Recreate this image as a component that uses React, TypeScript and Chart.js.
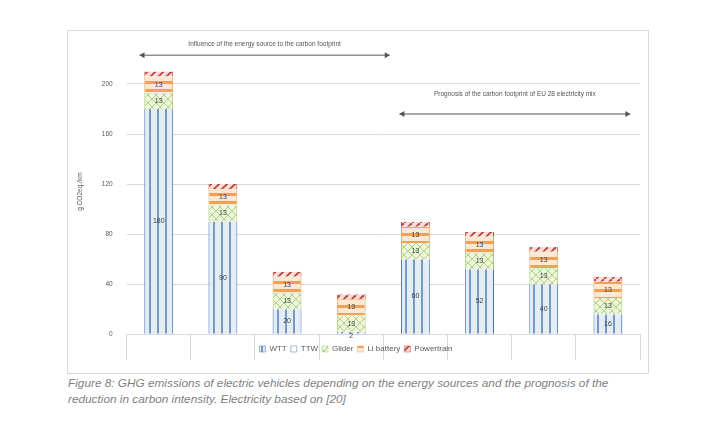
import React, { useEffect, useRef } from "react";
import { Chart, registerables } from "chart.js";
Chart.register(...registerables);

const energyLabels = ["900 g CO2/kWh", "450 g CO2/kWh", "100 g CO2/kWh", "11 g CO2/kWh", "300 g CO2/kWh", "260 g CO2/kWh", "200 g CO2/kWh", "80 g CO2/kWh"];
const sourceLabels = ["coal", "natural gas", "solar", "wind", "EU 28 (2015)", "EU 28 (2020)", "EU 28 (2030)", "EU 28 (2050)"];
const wtt = [180, 90, 20, 2, 60, 52, 40, 16];
const ttw = [0, 0, 0, 0, 0, 0, 0, 0];
const glider = [13, 13, 13, 13, 13, 13, 13, 13];
const battery = [13, 13, 13, 13, 13, 13, 13, 13];
const powertrain = [4, 4, 4, 4, 4, 4, 4, 4];
const yTicks = [0, 40, 80, 120, 160, 200];

function pattern(kind: string): CanvasPattern | string {
  const c = document.createElement("canvas");
  const s = 8;
  c.width = s; c.height = s;
  const g = c.getContext("2d")!;
  if (kind === "wtt") {
    g.fillStyle = "#e4edf7"; g.fillRect(0, 0, s, s);
    g.strokeStyle = "#5b84b8"; g.lineWidth = 1.6;
    g.beginPath(); g.moveTo(2, 0); g.lineTo(2, s); g.stroke();
  } else if (kind === "glider") {
    g.fillStyle = "#eef5df"; g.fillRect(0, 0, s, s);
    g.strokeStyle = "#a6c86a"; g.lineWidth = 0.8;
    g.beginPath(); g.moveTo(0, 0); g.lineTo(s, s); g.moveTo(s, 0); g.lineTo(0, s); g.stroke();
  } else if (kind === "battery") {
    g.fillStyle = "#fde8d4"; g.fillRect(0, 0, s, s);
    g.fillStyle = "#f1a055"; g.fillRect(0, 2, s, 3);
  } else if (kind === "powertrain") {
    g.fillStyle = "#f6dcd8"; g.fillRect(0, 0, s, s);
    g.strokeStyle = "#c0403a"; g.lineWidth = 1.8;
    g.beginPath(); g.moveTo(0, s); g.lineTo(s, 0); g.stroke();
  } else {
    g.fillStyle = "#ffffff"; g.fillRect(0, 0, s, s);
  }
  return g.createPattern(c, "repeat")!;
}

const labelPlugin = {
  id: "vals",
  afterDatasetsDraw(chart: any) {
    const ctx = chart.ctx;
    ctx.save();
    ctx.font = "7px 'Liberation Sans', sans-serif";
    ctx.fillStyle = "#404040";
    ctx.textAlign = "center";
    ctx.textBaseline = "middle";
    [0, 2, 3].forEach((di) => {
      const meta = chart.getDatasetMeta(di);
      meta.data.forEach((el: any, i: number) => {
        const v = chart.data.datasets[di].data[i];
        if (!v) return;
        const y = di === 0 && v < 5 ? el.y + 4 : (el.y + el.base) / 2;
        ctx.fillText(String(v), el.x, y);
      });
    });
    const x = chart.scales.x;
    const y = chart.scales.y;
    const arrow = (x1: number, x2: number, yy: number, text: string, ty: number) => {
      ctx.strokeStyle = "#555"; ctx.fillStyle = "#555"; ctx.lineWidth = 1;
      ctx.beginPath(); ctx.moveTo(x1, yy); ctx.lineTo(x2, yy); ctx.stroke();
      ctx.beginPath(); ctx.moveTo(x1, yy); ctx.lineTo(x1 + 5, yy - 3); ctx.lineTo(x1 + 5, yy + 3); ctx.fill();
      ctx.beginPath(); ctx.moveTo(x2, yy); ctx.lineTo(x2 - 5, yy - 3); ctx.lineTo(x2 - 5, yy + 3); ctx.fill();
      ctx.fillStyle = "#555"; ctx.font = "6.5px 'Liberation Sans', sans-serif";
      ctx.fillText(text, (x1 + x2) / 2, ty);
    };
    const w = (x.getPixelForValue(1) - x.getPixelForValue(0));
    arrow(x.getPixelForValue(0) - w * 0.3, x.getPixelForValue(3) + w * 0.6, y.getPixelForValue(223), "Influence of the energy source to the carbon footprint", y.getPixelForValue(232));
    arrow(x.getPixelForValue(4) - w * 0.25, x.getPixelForValue(7) + w * 0.35, y.getPixelForValue(176), "Prognosis of the carbon footprint of EU 28 electricity mix", y.getPixelForValue(192));
    ctx.restore();
  },
};

export default function App() {
  const ref = useRef<HTMLCanvasElement>(null);
  useEffect(() => {
    const labels = energyLabels.map((e, i) => [e, sourceLabels[i]]);
    const mk = (label: string, data: number[], kind: string, border: string) => ({
      label, data, backgroundColor: pattern(kind), borderColor: border, borderWidth: { left: 1, right: 1, top: 0, bottom: 0 } as any, barPercentage: 0.45, categoryPercentage: 1,
    });
    const chart = new Chart(ref.current!, {
      type: "bar",
      data: {
        labels,
        datasets: [
          mk("WTT", wtt, "wtt", "#4a73a8"),
          mk("TTW", ttw, "ttw", "#4a73a8"),
          mk("Glider", glider, "glider", "#a6c86a"),
          mk("Li battery", battery, "battery", "#f1a055"),
          mk("Powertrain", powertrain, "powertrain", "#c0403a"),
        ],
      },
      options: {
        animation: false,
        responsive: false,
        layout: { padding: { top: 12, right: 8, left: 4, bottom: 10 } },
        scales: {
          x: {
            stacked: true,
            grid: { display: true, drawOnChartArea: false, color: "#d9d9d9", tickLength: 26 } as any,
            border: { color: "#d9d9d9" },
            ticks: { color: "#595959", font: { size: 6.5, family: "'Liberation Sans', sans-serif", lineHeight: 1.9 }, maxRotation: 0, autoSkip: false, padding: -22 },
          },
          y: {
            stacked: true, min: 0, max: 228,
            afterBuildTicks: (s: any) => { s.ticks = yTicks.map((v) => ({ value: v })); },
            grid: { color: "#d9d9d9", drawTicks: false },
            border: { display: false },
            ticks: { color: "#595959", font: { size: 6.5, family: "'Liberation Sans', sans-serif" }, padding: 14 },
            title: { display: true, text: "g CO2eq./km", color: "#595959", font: { size: 6.5, family: "'Liberation Sans', sans-serif" } },
          },
        },
        plugins: {
          tooltip: { enabled: false },
          legend: {
            position: "bottom",
            labels: { boxWidth: 6, boxHeight: 6, color: "#595959", font: { size: 8, family: "'Liberation Sans', sans-serif" }, padding: 4 },
          },
        },
      },
      plugins: [labelPlugin],
    });
    return () => chart.destroy();
  }, []);
  return (
    <div style={{ position: "absolute", left: 0, top: 0, width: 701, height: 428, background: "#fff" }}>
      <div style={{ position: "absolute", left: 67, top: 30, width: 580, height: 342, border: "1px solid #d9d9d9" }}>
        <canvas ref={ref} width={580} height={342} style={{ width: 580, height: 342 }} />
      </div>
      <div style={{ position: "absolute", left: 68, top: 375, width: 580, fontFamily: "'Liberation Sans', sans-serif", fontStyle: "italic", fontSize: 11.8, lineHeight: "16px", color: "#7f7f7f" }}>
        Figure 8: GHG emissions of electric vehicles depending on the energy sources and the prognosis of the reduction in carbon intensity. Electricity based on [20]
      </div>
    </div>
  );
}
